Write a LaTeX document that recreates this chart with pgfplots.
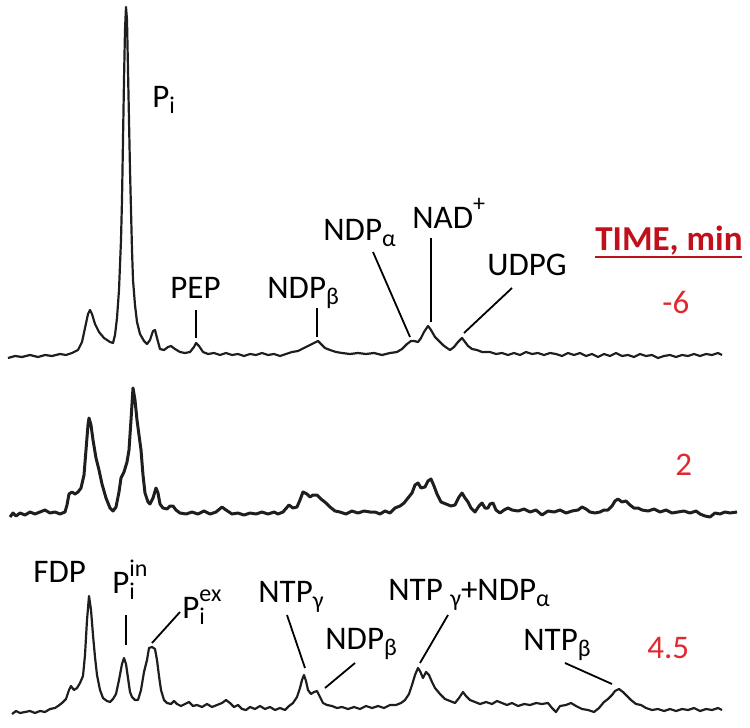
\documentclass[border=0pt]{standalone}
\usepackage{fontspec}
\setmainfont{Carlito}
\usepackage{pgfplots}
\pgfplotsset{compat=1.18}
\definecolor{trace}{HTML}{1E1E1E}
\definecolor{titlered}{HTML}{C0101C}
\definecolor{numred}{HTML}{E02830}
\newcommand\sbb[1]{\raisebox{-3pt}{\fontsize{12}{12}\selectfont #1}}
\newcommand\spp[1]{\raisebox{8.5pt}{\fontsize{12}{12}\selectfont #1}}
\tikzset{
  lbl/.style={anchor=base west, inner sep=0pt, font=\fontsize{16.5}{18}\selectfont},
  lead/.style={black, line width=0.9pt},
  spec/.style={trace, line width=1.1pt, line join=round, mark=none},
}

\begin{document}
\begin{tikzpicture}
\begin{axis}[
    width=375pt, height=364pt, scale only axis,
    xmin=0, xmax=750, ymin=0, ymax=728, y dir=reverse,
    hide axis, clip=false,
]
% spectrum at -6 min
\addplot[spec] coordinates {
(8,358) (15,356) (22,357) (30,355) (38,357) (45,355) (52,356) (60,354) (66,355) (72,353)
(78,350) (82,342) (85,328) (88,314) (90,310) (92,314) (95,324) (99,332) (104,338) (110,342)
(113,343) (115,335) (117,318) (119,290) (121,240) (122,200) (123,140) (124,80) (125,30) (126,7)
(127,20) (128,70) (129,120) (130,170) (131,210) (132,250) (133,280) (135,305) (137,322) (140,334)
(144,341) (147,344) (150,340) (153,331) (155,330) (157,338) (160,349) (164,350) (168,347) (171,346)
(175,349) (180,352) (185,353) (190,352) (194,347) (196,343) (199,346) (203,352) (208,354) (214,353)
(220,355) (226,353) (232,355) (238,354) (244,356) (250,354) (256,355) (262,353) (268,355) (274,354)
(280,356) (286,354) (292,352) (298,351) (304,348) (310,345) (314,343) (318,341) (321,344) (325,348)
(330,350) (336,352) (342,353) (350,354) (358,353) (366,354) (374,353) (382,355) (390,353) (397,352)
(402,349) (407,344) (411,341) (414,341) (418,342) (421,338) (424,332) (428,326) (431,330) (435,337)
(439,341) (443,345) (447,348) (450,350) (454,347) (458,342) (462,338) (465,342) (468,346) (472,349)
(477,350) (482,352) (490,352) (496,354) (502,353) (508,355) (514,353) (520,355) (526,352) (532,354)
(538,353) (544,355) (550,353) (556,354) (562,356) (568,353) (574,355) (580,353) (586,356) (592,354)
(598,357) (604,354) (610,356) (616,353) (622,356) (628,355) (634,357) (640,354) (646,356) (652,355)
(658,358) (664,356) (670,355) (676,357) (682,355) (688,356) (694,354) (700,356) (706,354) (712,355)
(718,353) (722,355)
};
% spectrum at 2 min
\addplot[spec, line width=1.5pt] coordinates {
(10,517) (13,513) (16,516) (20,513) (25,515) (30,512) (35,514) (40,512) (45,510) (50,513)
(55,512) (60,514) (65,512) (67,505) (69,494) (72,492) (75,494) (78,492) (81,488) (84,475)
(86,450) (88,425) (89,418) (91,425) (93,440) (96,458) (99,470) (102,484) (106,498) (110,508)
(113,511) (116,507) (119,492) (121,478) (124,472) (127,462) (129,450) (131,420) (133,388) (135,400)
(137,420) (139,435) (141,450) (143,475) (145,493) (148,502) (150,504) (153,498) (156,488) (158,493)
(160,504) (163,508) (167,509) (170,506) (173,506) (176,510) (180,513) (186,514) (192,512) (198,514)
(204,511) (210,514) (216,512) (222,507) (226,510) (232,514) (238,513) (244,515) (250,513) (256,514)
(262,512) (268,514) (274,512) (278,514) (283,512) (289,505) (293,508) (297,507) (300,500) (303,492)
(307,494) (310,497) (313,495) (317,495) (321,499) (326,503) (330,507) (335,511) (340,512) (346,514)
(352,511) (358,513) (364,511) (370,512) (375,512) (380,514) (385,511) (390,513) (395,508) (400,506)
(404,503) (408,498) (412,493) (415,485) (418,483) (421,488) (425,487) (428,481) (431,479) (434,486)
(437,494) (441,502) (446,504) (451,506) (455,505) (459,497) (462,493) (465,498) (468,502) (471,508)
(475,512) (479,506) (482,503) (485,508) (488,508) (490,504) (493,503) (496,510) (500,513) (504,510)
(508,508) (512,510) (518,511) (524,509) (530,512) (536,510) (542,515) (548,511) (554,512) (560,510)
(566,513) (572,511) (578,510) (582,507) (586,509) (590,512) (595,513) (600,512) (604,510) (608,510)
(612,506) (615,501) (618,499) (622,502) (626,501) (630,505) (634,508) (638,508) (642,510) (648,511)
(654,509) (660,512) (666,510) (672,513) (678,512) (684,511) (690,513) (696,511) (700,514) (705,516)
(710,517) (715,513) (720,514) (725,512) (730,513) (737,512)
};
% spectrum at 4.5 min
\addplot[spec] coordinates {
(12,714) (16,711) (20,713) (25,712) (30,711) (35,713) (40,711) (45,712) (50,709) (55,708)
(58,706) (62,703) (66,699) (69,690) (71,686) (74,690) (77,688) (80,683) (83,676) (85,655)
(87,620) (89,596) (91,610) (93,635) (95,657) (97,675) (100,690) (103,698) (107,701) (110,702)
(113,699) (116,694) (119,680) (122,664) (124,658) (126,664) (128,678) (130,692) (132,697) (135,700)
(138,700) (141,690) (144,672) (147,660) (149,648) (152,647) (155,649) (157,660) (159,676) (161,690)
(164,700) (167,703) (171,704) (174,701) (177,704) (181,706) (185,704) (189,702) (193,706) (197,705)
(202,707) (207,704) (212,707) (217,705) (222,703) (226,700) (230,703) (234,707) (238,705) (242,709)
(246,710) (250,707) (255,709) (260,706) (265,709) (270,707) (275,710) (280,708) (285,710) (289,706)
(293,703) (297,697) (300,688) (302,680) (304,675) (306,681) (308,690) (311,694) (314,692) (317,691)
(320,697) (323,703) (327,705) (332,706) (337,708) (342,707) (348,709) (354,707) (360,709) (366,706)
(372,708) (378,706) (384,708) (390,705) (396,705) (401,703) (405,700) (409,694) (412,685) (415,675)
(418,668) (420,671) (423,678) (426,672) (429,675) (432,682) (435,688) (440,694) (445,699) (450,701)
(455,703) (459,698) (463,692) (466,696) (470,700) (475,702) (480,704) (486,702) (492,704) (497,701)
(502,703) (507,705) (512,703) (518,706) (524,704) (530,705) (536,703) (542,704) (548,703) (552,708)
(556,712) (560,706) (566,705) (571,703) (576,706) (582,709) (588,710) (594,712) (599,708) (604,702)
(608,699) (612,695) (615,691) (619,689) (623,692) (627,696) (631,700) (636,704) (641,705) (646,708)
(652,710) (658,709) (664,711) (670,709) (676,711) (682,709) (688,710) (694,708) (700,711) (706,709)
(712,710) (718,708) (722,710)
};

\path (rel axis cs:0,0) rectangle (rel axis cs:1,1);

% labels, top spectrum
\node[lbl] at (axis cs:152,107) {P\sbb{i}};
\node[lbl] at (axis cs:170,298) {PEP};
\node[lbl] at (axis cs:267,298) {NDP\sbb{β}};
\node[lbl] at (axis cs:323,240) {NDP\sbb{α}};
\node[lbl] at (axis cs:412,228) {NAD\spp{+}};
\node[lbl] at (axis cs:487,275) {UDPG};
\draw[lead] (axis cs:196,310) -- (axis cs:196,338);
\draw[lead] (axis cs:317,308) -- (axis cs:317,337);
\draw[lead] (axis cs:373,252) -- (axis cs:410,337);
\draw[lead] (axis cs:431,238) -- (axis cs:431,322);
\draw[lead] (axis cs:512,288) -- (axis cs:464,333);

% labels, bottom spectrum
\node[lbl] at (axis cs:33,582) {FDP};
\node[lbl] at (axis cs:112,593) {P\rlap{\spp{in}}\sbb{i}};
\node[lbl] at (axis cs:182,618) {P\rlap{\spp{ex}}\sbb{i}};
\node[lbl] at (axis cs:258,602) {NTP\sbb{γ}};
\node[lbl] at (axis cs:325,649) {NDP\sbb{β}};
\node[lbl] at (axis cs:388,600) {NTP \sbb{γ}+NDP\sbb{α}};
\node[lbl] at (axis cs:523,650) {NTP\sbb{β}};
\draw[lead] (axis cs:126,615) -- (axis cs:126,645);
\draw[lead] (axis cs:180,612) -- (axis cs:152,643);
\draw[lead] (axis cs:287,615) -- (axis cs:305,668);
\draw[lead] (axis cs:355,663) -- (axis cs:325,688);
\draw[lead] (axis cs:448,615) -- (axis cs:420,663);
\draw[lead] (axis cs:565,663) -- (axis cs:612,684);

% time column
\node[lbl, titlered, font=\fontsize{17.5}{19}\selectfont\bfseries] at (axis cs:595,250) {TIME, min};
\draw[titlered, line width=1.3pt] (axis cs:595,257) -- (axis cs:742,257);
\node[lbl, numred] at (axis cs:662,313) {-6};
\node[lbl, numred] at (axis cs:675,475) {2};
\node[lbl, numred] at (axis cs:647,658) {4.5};
\end{axis}
\end{tikzpicture}
\end{document}
